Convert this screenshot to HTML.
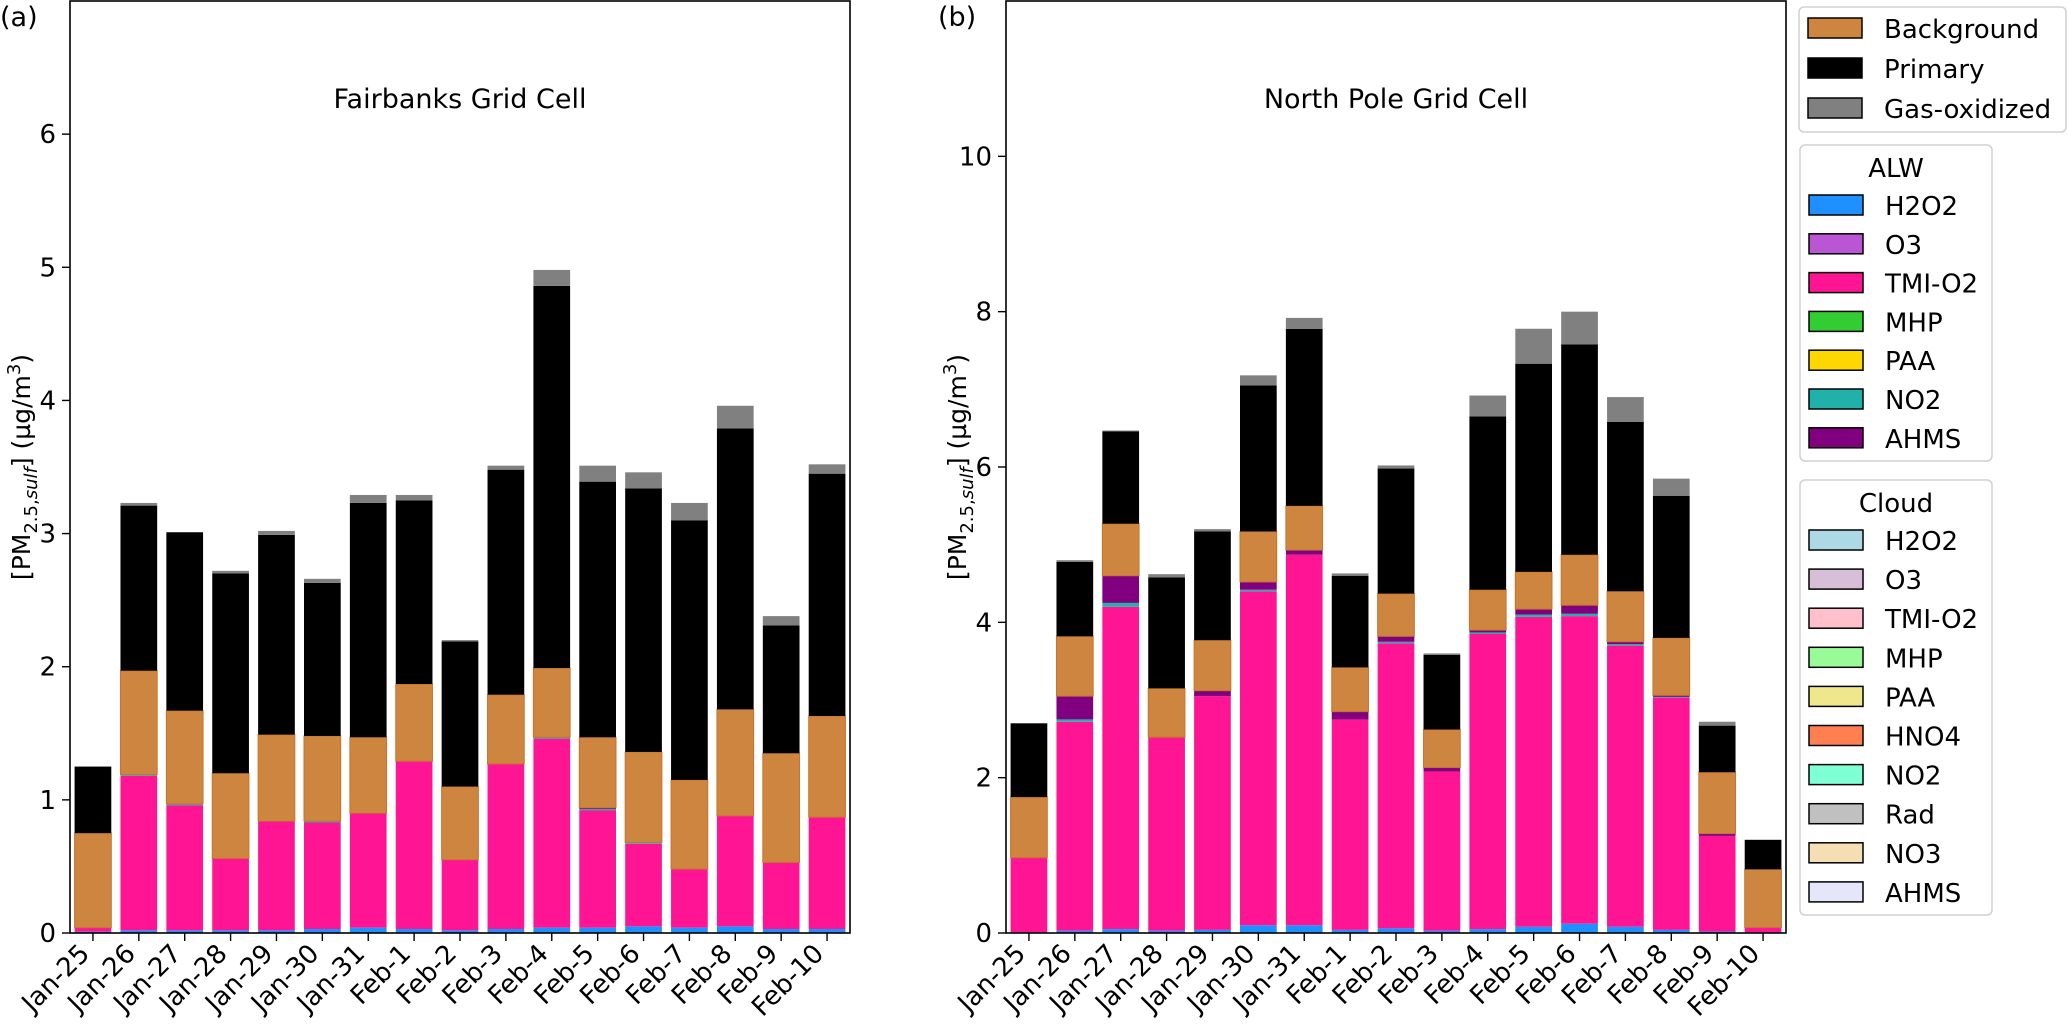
<!DOCTYPE html>
<html><head><meta charset="utf-8"><style>
html,body{margin:0;padding:0;background:#fff}
svg{display:block;font-family:"DejaVu Sans","Liberation Sans",sans-serif}
</style></head><body>
<svg id="chart" width="2067" height="1026" viewBox="0 0 2067 1026" xmlns="http://www.w3.org/2000/svg">
<g id="panels"></g>
<g id="legend"></g>
</svg>
<script>
const categories=["Jan-25","Jan-26","Jan-27","Jan-28","Jan-29","Jan-30","Jan-31","Feb-1","Feb-2","Feb-3","Feb-4","Feb-5","Feb-6","Feb-7","Feb-8","Feb-9","Feb-10"];
// Fairbanks
const fbH2O2=[0.01,0.02,0.02,0.02,0.02,0.03,0.04,0.03,0.02,0.03,0.04,0.04,0.05,0.04,0.05,0.03,0.03];
const fbTMI=[0.03,1.16,0.94,0.54,0.82,0.80,0.86,1.26,0.53,1.24,1.42,0.88,0.62,0.44,0.83,0.50,0.84];
const fbNO2=[0,0.01,0.01,0,0,0.01,0,0,0,0,0.01,0.01,0.01,0,0,0,0];
const fbAHMS=[0,0,0,0,0,0,0,0,0,0,0,0.01,0,0,0,0,0];
const fbBackground=[0.71,0.78,0.70,0.64,0.65,0.64,0.57,0.58,0.55,0.52,0.52,0.53,0.68,0.67,0.80,0.82,0.76];
const fbPrimary=[0.50,1.24,1.34,1.50,1.50,1.15,1.76,1.38,1.09,1.69,2.87,1.92,1.98,1.95,2.11,0.96,1.82];
const fbGas=[0.0,0.02,0.0,0.02,0.03,0.03,0.06,0.04,0.01,0.03,0.12,0.12,0.12,0.13,0.17,0.07,0.07];
// North Pole
const npH2O2=[0.01,0.03,0.05,0.03,0.04,0.1,0.1,0.04,0.06,0.03,0.05,0.08,0.12,0.08,0.04,0.02,0.01];
const npTMI=[0.96,2.69,4.15,2.49,3.01,4.30,4.77,2.71,3.67,2.05,3.80,3.99,3.96,3.62,2.99,1.23,0.06];
const npNO2=[0,0.03,0.05,0,0,0.02,0,0,0.02,0,0.02,0.03,0.03,0.02,0.01,0,0];
const npAHMS=[0,0.3,0.35,0,0.07,0.1,0.06,0.1,0.07,0.05,0.03,0.07,0.11,0.03,0.02,0.03,0];
const npBackground=[0.78,0.77,0.67,0.63,0.65,0.65,0.57,0.57,0.55,0.49,0.52,0.48,0.65,0.65,0.74,0.79,0.75];
const npPrimary=[0.95,0.96,1.19,1.43,1.40,1.88,2.28,1.18,1.61,0.96,2.23,2.68,2.71,2.18,1.83,0.60,0.38];
const npGas=[0,0.02,0.01,0.04,0.03,0.13,0.14,0.03,0.04,0.02,0.27,0.45,0.42,0.32,0.22,0.05,0];
const fbTicks=[0,1,2,3,4,5,6];
const npTicks=[0,2,4,6,8,10];

const NS="http://www.w3.org/2000/svg";
function mk(tag,attrs,parent){const e=document.createElementNS(NS,tag);for(const k in attrs)e.setAttribute(k,attrs[k]);parent.appendChild(e);return e;}
const panelsG=document.getElementById('panels');

function drawPanel(opt){
  const g=mk('g',{},panelsG);
  
  
  const L=opt.left,R=opt.left+780,T=1,B=933;
  const y=v=>B-(v/opt.ymax)*(B-T);
  const step=(R-L)/17;
  const x=i=>L+step*(i+0.5);
  const bw=step*0.8;
  const layers=[
    [opt.h2o2,'#1e90ff','none','h2o2'],
    [opt.tmi,'#ff1493','none','tmi-o2'],
    [opt.no2,'#20b2aa','none','no2'],
    [opt.ahms,'#800080','none','ahms'],
    [opt.bg,'#cd853f','#c8742a','background'],
    [opt.prim,'#000000','none','primary'],
    [opt.gas,'#808080','none','gas-oxidized']];
  categories.forEach((c,i)=>{
    let cum=0;
    layers.forEach(ly=>{
      const v=ly[0][i];
      if(v<=0)return;
      const r=mk('rect',{x:x(i)-bw/2,y:y(cum+v),width:bw,height:y(cum)-y(cum+v),fill:ly[1],stroke:ly[2],'stroke-width':1},g);
      
      
      cum+=v;
    });
  });
  const frame=mk('rect',{x:L,y:T,width:R-L,height:B-T,fill:'none',stroke:'#000','stroke-width':1.6},g);
  
  
  opt.ticks.forEach(t=>{
    mk('line',{x1:L-8,x2:L,y1:y(t),y2:y(t),stroke:'#000','stroke-width':1.4},g);
    const tx=mk('text',{x:L-14,y:y(t)+9,'font-size':26,'text-anchor':'end'},g);
    tx.textContent=t;
    
    
  });
  categories.forEach((c,i)=>{
    mk('line',{x1:x(i),x2:x(i),y1:B,y2:B+8,stroke:'#000','stroke-width':1.4},g);
    const ax=x(i)-2, ay=B+22;
    const tx=mk('text',{x:ax,y:ay,'font-size':26,'text-anchor':'end',transform:`rotate(-45 ${ax} ${ay})`},g);
    tx.textContent=c;
    
    
  });
  const ti=mk('text',{x:(L+R)/2,y:108,'font-size':27,'text-anchor':'middle'},g);
  ti.textContent=opt.title;
  
  
  const lab=mk('text',{x:opt.labelX,y:26,'font-size':27},g);
  lab.textContent=opt.letter;
  
  
  const yl=mk('text',{x:0,y:0,'font-size':25,'text-anchor':'middle',transform:`translate(${opt.ylabX} 467) rotate(-90)`},g);
  yl.innerHTML='[PM<tspan font-size="18" dy="7">2.5,<tspan font-style="italic">sulf</tspan></tspan><tspan dy="-7">] (µg/m</tspan><tspan font-size="18" dy="-10">3</tspan><tspan dy="10">)</tspan>';
  
  
}
drawPanel({name:'fairbanks-panel',left:70,ymax:7,ticks:fbTicks,h2o2:fbH2O2,tmi:fbTMI,no2:fbNO2,ahms:fbAHMS,bg:fbBackground,prim:fbPrimary,gas:fbGas,title:'Fairbanks Grid Cell',letter:'(a)',labelX:0,ylabX:30});
drawPanel({name:'north-pole-panel',left:1006,ymax:12,ticks:npTicks,h2o2:npH2O2,tmi:npTMI,no2:npNO2,ahms:npAHMS,bg:npBackground,prim:npPrimary,gas:npGas,title:'North Pole Grid Cell',letter:'(b)',labelX:938,ylabX:966});

// legends
const legG=document.getElementById('legend');
function legendBox(name,x0,y0,w,h,title,entries,firstY,sp){
  const g=mk('g',{},legG);
  
  
  mk('rect',{x:x0,y:y0,width:w,height:h,rx:5,fill:'#fff',stroke:'#d0d0d0','stroke-width':1.5},g);
  if(title){const t=mk('text',{x:x0+w/2,y:y0+32,'font-size':26,'text-anchor':'middle'},g);t.textContent=title;}
  entries.forEach((e,i)=>{
    const cy=firstY+i*sp;
    const ent=mk('g',{},g);
    
    
    mk('rect',{x:x0+9,y:cy-10,width:54,height:20,fill:e[1],stroke:'#000','stroke-width':1.5},ent);
    const t=mk('text',{x:x0+85,y:cy+10,'font-size':26},ent);
    t.textContent=e[0];
  });
}
legendBox('legend-sources',1799,7,267,125,null,[['Background','#cd853f'],['Primary','#000000'],['Gas-oxidized','#808080']],28,40);
legendBox('legend-alw',1800,145,192,316,'ALW',[['H2O2','#1e90ff'],['O3','#ba55d3'],['TMI-O2','#ff1493'],['MHP','#32cd32'],['PAA','#ffd700'],['NO2','#20b2aa'],['AHMS','#800080']],205,38.8);
legendBox('legend-cloud',1800,480,192,435,'Cloud',[['H2O2','#add8e6'],['O3','#d8bfd8'],['TMI-O2','#ffc0cb'],['MHP','#98fb98'],['PAA','#f0e68c'],['HNO4','#ff7f50'],['NO2','#7fffd4'],['Rad','#c0c0c0'],['NO3','#f5deb3'],['AHMS','#e6e6fa']],540,39.1);
</script>
</body></html>
